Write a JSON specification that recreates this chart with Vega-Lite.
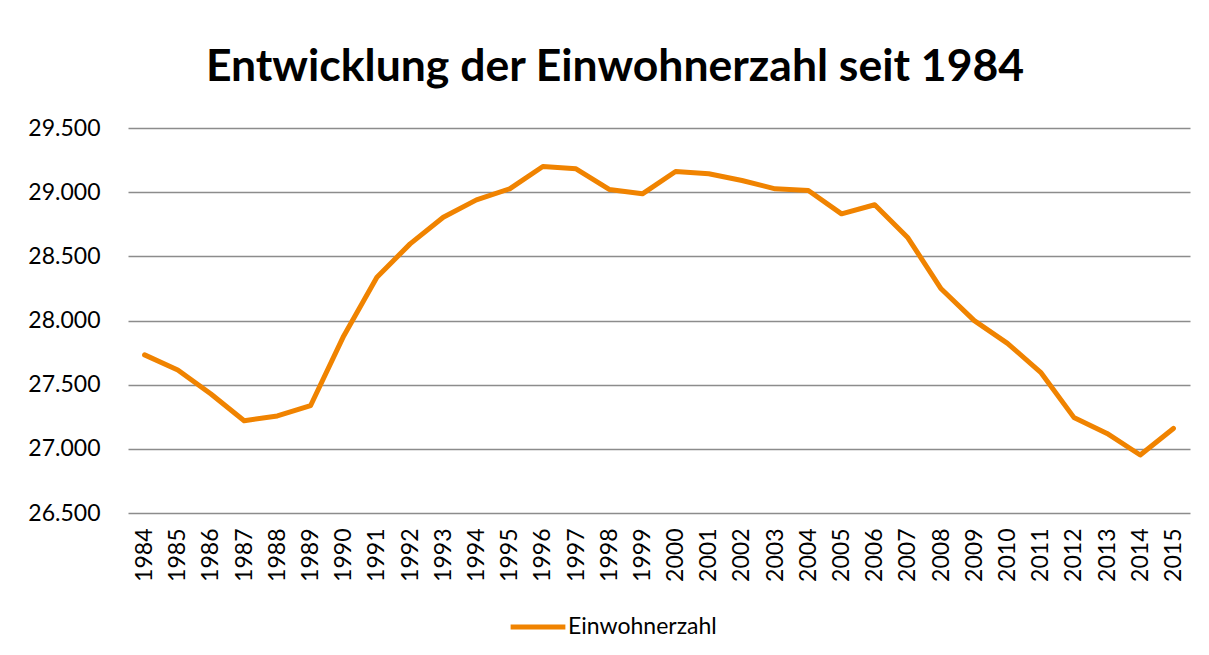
{
  "$schema": "https://vega.github.io/schema/vega-lite/v6.json",
  "width": 1062,
  "height": 385,
  "autosize": "none",
  "padding": {"left": 128, "top": 128, "right": 19, "bottom": 142},
  "background": "white",
  "title": {
    "text": "Entwicklung der Einwohnerzahl seit 1984",
    "font": "Lato",
    "fontSize": 44.5,
    "fontWeight": "bold",
    "color": "#000000",
    "anchor": "middle",
    "dx": -44,
    "offset": 27
  },
  "data": {
    "values": [
      {"Jahr": "1984", "Wert": 27732, "Serie": "Einwohnerzahl"},
      {"Jahr": "1985", "Wert": 27615, "Serie": "Einwohnerzahl"},
      {"Jahr": "1986", "Wert": 27427, "Serie": "Einwohnerzahl"},
      {"Jahr": "1987", "Wert": 27219, "Serie": "Einwohnerzahl"},
      {"Jahr": "1988", "Wert": 27256, "Serie": "Einwohnerzahl"},
      {"Jahr": "1989", "Wert": 27336, "Serie": "Einwohnerzahl"},
      {"Jahr": "1990", "Wert": 27880, "Serie": "Einwohnerzahl"},
      {"Jahr": "1991", "Wert": 28337, "Serie": "Einwohnerzahl"},
      {"Jahr": "1992", "Wert": 28597, "Serie": "Einwohnerzahl"},
      {"Jahr": "1993", "Wert": 28805, "Serie": "Einwohnerzahl"},
      {"Jahr": "1994", "Wert": 28940, "Serie": "Einwohnerzahl"},
      {"Jahr": "1995", "Wert": 29026, "Serie": "Einwohnerzahl"},
      {"Jahr": "1996", "Wert": 29200, "Serie": "Einwohnerzahl"},
      {"Jahr": "1997", "Wert": 29182, "Serie": "Einwohnerzahl"},
      {"Jahr": "1998", "Wert": 29021, "Serie": "Einwohnerzahl"},
      {"Jahr": "1999", "Wert": 28987, "Serie": "Einwohnerzahl"},
      {"Jahr": "2000", "Wert": 29161, "Serie": "Einwohnerzahl"},
      {"Jahr": "2001", "Wert": 29143, "Serie": "Einwohnerzahl"},
      {"Jahr": "2002", "Wert": 29091, "Serie": "Einwohnerzahl"},
      {"Jahr": "2003", "Wert": 29026, "Serie": "Einwohnerzahl"},
      {"Jahr": "2004", "Wert": 29013, "Serie": "Einwohnerzahl"},
      {"Jahr": "2005", "Wert": 28831, "Serie": "Einwohnerzahl"},
      {"Jahr": "2006", "Wert": 28902, "Serie": "Einwohnerzahl"},
      {"Jahr": "2007", "Wert": 28644, "Serie": "Einwohnerzahl"},
      {"Jahr": "2008", "Wert": 28247, "Serie": "Einwohnerzahl"},
      {"Jahr": "2009", "Wert": 27999, "Serie": "Einwohnerzahl"},
      {"Jahr": "2010", "Wert": 27822, "Serie": "Einwohnerzahl"},
      {"Jahr": "2011", "Wert": 27596, "Serie": "Einwohnerzahl"},
      {"Jahr": "2012", "Wert": 27245, "Serie": "Einwohnerzahl"},
      {"Jahr": "2013", "Wert": 27120, "Serie": "Einwohnerzahl"},
      {"Jahr": "2014", "Wert": 26952, "Serie": "Einwohnerzahl"},
      {"Jahr": "2015", "Wert": 27159, "Serie": "Einwohnerzahl"}
    ]
  },
  "mark": {"type": "line", "strokeWidth": 5, "strokeCap": "round", "strokeJoin": "round"},
  "encoding": {
    "x": {
      "field": "Jahr",
      "type": "ordinal",
      "scale": {"type": "point", "padding": 0.5},
      "axis": {
        "title": null,
        "labelAngle": 270,
        "labelAlign": "right",
        "labelBaseline": "middle",
        "labelFont": "Lato",
        "labelFontSize": 23,
        "labelColor": "#000000",
        "labelPadding": 15,
        "ticks": false,
        "domain": false,
        "grid": false
      }
    },
    "y": {
      "field": "Wert",
      "type": "quantitative",
      "scale": {"domain": [26500, 29500], "nice": false, "zero": false},
      "axis": {
        "title": null,
        "values": [26500, 27000, 27500, 28000, 28500, 29000, 29500],
        "labelExpr": "replace(format(datum.value, ','), ',', '.')",
        "labelFont": "Lato",
        "labelFontSize": 23,
        "labelColor": "#000000",
        "labelPadding": 28,
        "ticks": false,
        "domain": false,
        "grid": true,
        "gridColor": "#8c8c8c",
        "gridWidth": 1.5
      }
    },
    "color": {
      "field": "Serie",
      "type": "nominal",
      "scale": {"range": ["#F08300"]},
      "legend": {
        "title": null,
        "orient": "none",
        "legendX": 380,
        "legendY": 469,
        "symbolType": "stroke",
        "symbolSize": 3000,
        "symbolStrokeWidth": 5,
        "labelFont": "Lato",
        "labelFontSize": 23,
        "labelColor": "#000000",
        "labelOffset": 0
      }
    }
  },
  "config": {
    "view": {"stroke": null}
  }
}
